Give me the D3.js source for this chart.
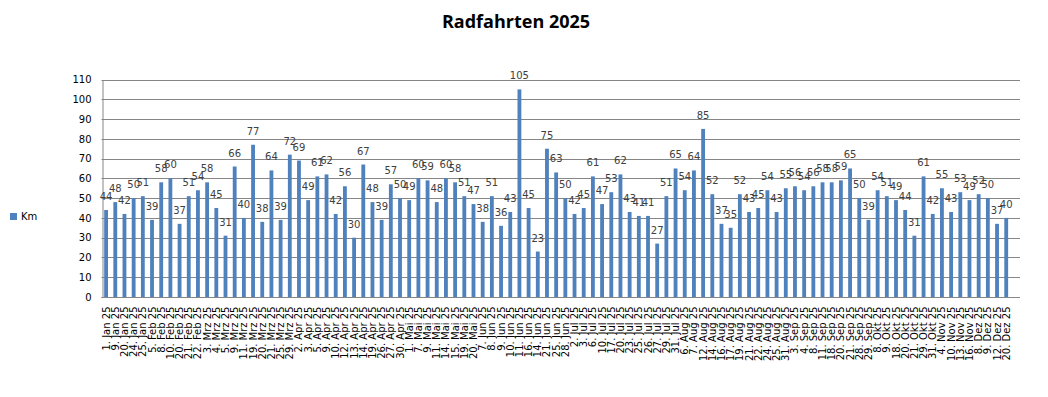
<!DOCTYPE html>
<html>
<head>
<meta charset="utf-8">
<script src="https://cdn.jsdelivr.net/npm/d3@7"></script>
<style>
  body { margin: 0; background: #fff; }
  svg { display: block; font-family: "DejaVu Sans", sans-serif; }
</style>
</head>
<body>
<div id="chart"></div>
<script>
const title = "Radfahrten 2025";
const seriesName = "Km";

const dates = [
  "1. Jan 25", "9. Jan 25", "20. Jan 25", "24. Jan 25", "25. Jan 25",
  "5. Feb 25", "8. Feb 25", "10. Feb 25", "20. Feb 25", "21. Feb 25", "22. Feb 25",
  "3. Mrz 25", "4. Mrz 25", "5. Mrz 25", "9. Mrz 25", "11. Mrz 25", "19. Mrz 25",
  "20. Mrz 25", "21. Mrz 25", "25. Mrz 25", "29. Mrz 25",
  "2. Apr 25", "3. Apr 25", "5. Apr 25", "9. Apr 25", "10. Apr 25", "12. Apr 25",
  "13. Apr 25", "14. Apr 25", "19. Apr 25", "26. Apr 25", "27. Apr 25", "30. Apr 25",
  "1. Mai 25", "7. Mai 25", "9. Mai 25", "11. Mai 25", "14. Mai 25", "15. Mai 25",
  "19. Mai 25", "20. Mai 25",
  "7. Jun 25", "8. Jun 25", "9. Jun 25", "10. Jun 25", "11. Jun 25", "16. Jun 25",
  "14. Jun 25", "21. Jun 25", "25. Jun 25", "28. Jun 25",
  "2. Jul 25", "3. Jul 25", "6. Jul 25", "10. Jul 25", "17. Jul 25", "20. Jul 25",
  "23. Jul 25", "25. Jul 25", "26. Jul 25", "27. Jul 25", "29. Jul 25", "31. Jul 25",
  "6. Aug 25", "7. Aug 25", "12. Aug 25", "14. Aug 25", "16. Aug 25", "17. Aug 25",
  "19. Aug 25", "21. Aug 25", "22. Aug 25", "24. Aug 25", "25. Aug 25", "31. Aug 25",
  "3. Sep 25", "4. Sep 25", "8. Sep 25", "11. Sep 25", "18. Sep 25", "20. Sep 25",
  "21. Sep 25", "28. Sep 25", "29. Sep 25",
  "8. Okt 25", "9. Okt 25", "18. Okt 25", "20. Okt 25", "21. Okt 25", "29. Okt 25",
  "31. Okt 25",
  "4. Nov 25", "10. Nov 25", "13. Nov 25", "16. Nov 25",
  "8. Dez 25", "9. Dez 25", "12. Dez 25", "20. Dez 25"
];

const km = [
  44, 48, 42, 50, 51,
  39, 58, 60, 37, 51, 54,
  58, 45, 31, 66, 40, 77,
  38, 64, 39, 72,
  69, 49, 61, 62, 42, 56,
  30, 67, 48, 39, 57, 50,
  49, 60, 59, 48, 60, 58,
  51, 47,
  38, 51, 36, 43, 105, 45,
  23, 75, 63, 50,
  42, 45, 61, 47, 53, 62,
  43, 41, 41, 27, 51, 65,
  54, 64, 85, 52, 37, 35,
  52, 43, 45, 54, 43, 55,
  56, 54, 56, 58, 58, 59,
  65, 50, 39,
  54, 51, 49, 44, 31, 61,
  42,
  55, 43, 53, 49,
  52, 50, 37, 40
];

const yTicks = d3.range(0, 111, 10);

const W = 1048, H = 397;
const plot = { left: 101.5, right: 1020, top: 79.5, bottom: 297 };
const barColor = "#4F81BD";
const gridColor = "#868686";

const data = dates.map((d, i) => ({ date: d, km: km[i] }));

const svg = d3.select("#chart").append("svg")
  .attr("width", W)
  .attr("height", H);

// the sheet has one trailing empty row, so the category axis has one extra slot
const step = (plot.right - plot.left) / (dates.length + 1);
const x = d3.scaleBand()
  .domain(dates)
  .range([plot.left, plot.left + step * dates.length]);
const y = d3.scaleLinear().domain([0, 110]).range([plot.bottom, plot.top]);

const barW = step / 2.4;

// gridlines
svg.append("g")
  .selectAll("line")
  .data(yTicks)
  .enter()
  .append("line")
  .attr("x1", plot.left)
  .attr("x2", plot.right)
  .attr("y1", (d) => Math.round(y(d)) + 0.5)
  .attr("y2", (d) => Math.round(y(d)) + 0.5)
  .attr("stroke", gridColor)
  .attr("stroke-width", 1);

// y axis
const yAxis = d3.axisLeft(y).tickValues(yTicks).tickSize(0).tickPadding(11);
const yg = svg.append("g")
  .attr("transform", `translate(${Math.round(plot.left) + 0.5},0)`)
  .call(yAxis);
yg.select(".domain").attr("stroke", gridColor);
yg.selectAll("text").attr("font-size", 10).attr("fill", "#000")
  .attr("font-family", "DejaVu Sans");

// bars
svg.append("g")
  .selectAll("rect")
  .data(data)
  .enter()
  .append("rect")
  .attr("x", (d) => x(d.date) + (step - barW) / 2)
  .attr("y", (d) => y(d.km))
  .attr("width", barW)
  .attr("height", (d) => y(0) - y(d.km))
  .attr("fill", barColor);

// value labels
svg.append("g")
  .selectAll("text")
  .data(data)
  .enter()
  .append("text")
  .attr("x", (d) => x(d.date) + step / 2)
  .attr("y", (d) => y(d.km) - 10)
  .attr("text-anchor", "middle")
  .attr("font-size", 10)
  .attr("fill", "#404040")
  .text((d) => d.km);

// x axis
const xAxis = d3.axisBottom(x).tickSize(0).tickPadding(0);
const xg = svg.append("g")
  .attr("transform", `translate(0,${Math.round(plot.bottom) + 0.5})`)
  .call(xAxis);
xg.select(".domain")
  .attr("d", `M${plot.left},0H${plot.right}`)
  .attr("stroke", gridColor);
xg.selectAll("text")
  .attr("font-size", 10)
  .attr("font-family", "DejaVu Sans")
  .attr("fill", "#000")
  .attr("text-anchor", "end")
  .attr("dy", "0.35em")
  .attr("transform", "translate(0,9) rotate(-90)")
  .attr("x", 0)
  .attr("y", 0);

// title
svg.append("text")
  .attr("x", 516)
  .attr("y", 28)
  .attr("text-anchor", "middle")
  .attr("font-family", "Open Sans, sans-serif")
  .attr("font-weight", "bold")
  .attr("font-size", 18)
  .attr("fill", "#000")
  .text(title);

// legend
const legend = svg.append("g").attr("transform", "translate(10,213)");
legend.append("rect")
  .attr("width", 7)
  .attr("height", 7)
  .attr("fill", barColor);
legend.append("text")
  .attr("x", 11)
  .attr("y", 7)
  .attr("font-size", 10)
  .attr("fill", "#000")
  .text(seriesName);
</script>
</body>
</html>
